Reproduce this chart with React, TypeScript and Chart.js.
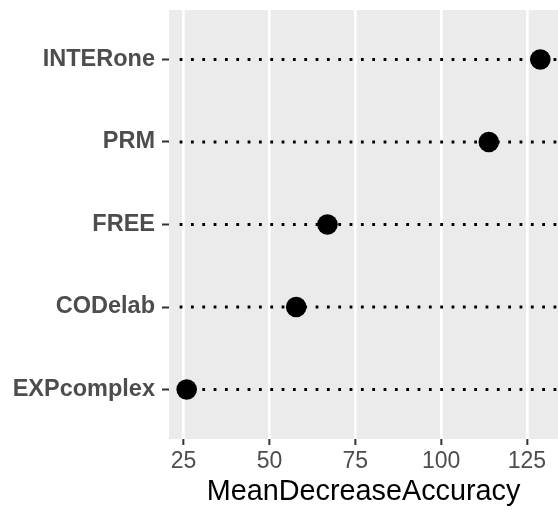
import React, { useEffect, useRef } from "react";
import { Chart, registerables } from "chart.js";

Chart.register(...registerables);

// ---- data ----
const variables = ["INTERone", "PRM", "FREE", "CODelab", "EXPcomplex"];
const meanDecreaseAccuracy = [128.9, 113.9, 66.9, 57.8, 25.9];
const xTickValues = [25, 50, 75, 100, 125];
const guideStart = 23.85; // where the dotted guide lines begin (data units)
const axisTitle = "MeanDecreaseAccuracy";

const FONT = "'Liberation Sans', Arial, Helvetica, sans-serif";

export default function App() {
  const ref = useRef<HTMLCanvasElement | null>(null);

  useEffect(() => {
    document.body.style.margin = "0";
    const canvas = ref.current;
    if (!canvas) return;

    const n = variables.length;
    const yPos = (i: number) => n - i;
    const dMin = Math.min(...meanDecreaseAccuracy);
    const dMax = Math.max(...meanDecreaseAccuracy);
    const span = dMax - dMin;
    const xMin = dMin - 0.05 * span;
    const xMax = dMax + 0.05 * span;

    const guideDatasets = variables.map((v, i) => ({
      type: "line" as const,
      label: v + " guide",
      data: [
        { x: guideStart, y: yPos(i) },
        { x: xMax, y: yPos(i) },
      ],
      borderColor: "#000000",
      borderWidth: 2.8,
      borderDash: [2.8, 8.53],
      borderCapStyle: "butt" as const,
      pointRadius: 0,
      order: 2,
    }));

    const bgPlugin = {
      id: "panelBg",
      beforeDraw(chart: any) {
        const { ctx, chartArea } = chart;
        ctx.save();
        ctx.fillStyle = "#EBEBEB";
        ctx.fillRect(chartArea.left, chartArea.top, chartArea.right - chartArea.left, chartArea.bottom - chartArea.top);
        ctx.restore();
      },
    };

    const chart = new Chart(canvas, {
      type: "scatter",
      data: {
        datasets: [
          {
            type: "scatter" as const,
            label: "MeanDecreaseAccuracy",
            data: meanDecreaseAccuracy.map((v, i) => ({ x: v, y: yPos(i) })),
            backgroundColor: "#000000",
            borderWidth: 0,
            pointRadius: 10.3,
            pointHoverRadius: 10.3,
            order: 0,
          },
          ...guideDatasets,
        ] as any,
      },
      options: {
        animation: false,
        responsive: false,
        events: [],
        layout: { autoPadding: false, padding: { top: 10, right: 0, bottom: 0, left: 0 } },
        plugins: {
          legend: { display: false },
          tooltip: { enabled: false },
        },
        scales: {
          x: {
            type: "linear",
            min: xMin,
            max: xMax,
            afterFit: (scale: any) => {
              scale.height = 72;
              scale.paddingLeft = 0;
              scale.paddingRight = 0;
            },
            afterBuildTicks: (scale: any) => {
              scale.ticks = xTickValues.map((v) => ({ value: v }));
            },
            border: { display: false },
            grid: {
              color: "#FFFFFF",
              lineWidth: 2.7,
              drawTicks: true,
              tickLength: 6,
              tickColor: "#333333",
              tickWidth: 2,
            },
            ticks: {
              color: "#4D4D4D",
              font: { family: FONT, size: 23, lineHeight: 1.2 },
              padding: 3,
              maxRotation: 0,
              callback: (v: any) => String(v),
            },
            title: {
              display: true,
              text: axisTitle,
              color: "#000000",
              font: { family: FONT, size: 28.8, lineHeight: 1.2 },
              padding: { top: 0, bottom: 2 },
            },
          },
          y: {
            type: "linear",
            min: 0.4,
            max: n + 0.6,
            afterFit: (scale: any) => {
              scale.width = 169;
              scale.paddingTop = 0;
              scale.paddingBottom = 0;
            },
            afterBuildTicks: (scale: any) => {
              scale.ticks = variables.map((_, i) => ({ value: yPos(i) }));
            },
            border: { display: false },
            grid: {
              drawOnChartArea: false,
              drawTicks: true,
              tickLength: 7,
              tickColor: "#333333",
              tickWidth: 2,
            },
            ticks: {
              color: "#4D4D4D",
              font: { family: FONT, size: 23.5, weight: "bold", lineHeight: 1.2 },
              padding: 7,
              callback: (v: any) => {
                const idx = n - Number(v);
                return variables[idx] ?? "";
              },
            },
          },
        },
      },
      plugins: [bgPlugin],
    });

    return () => chart.destroy();
  }, []);

  return (
    <div style={{ width: 558, height: 511 }}>
      <canvas ref={ref} width={558} height={511} style={{ display: "block" }} />
    </div>
  );
}
